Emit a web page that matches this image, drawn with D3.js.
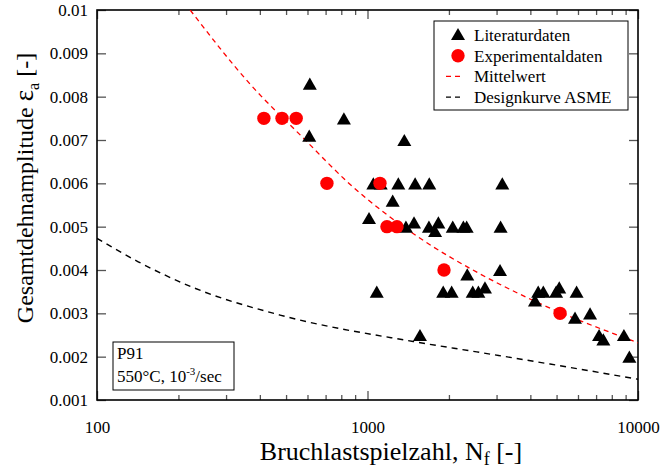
<!DOCTYPE html>
<html>
<head>
<meta charset="utf-8">
<script src="https://cdn.jsdelivr.net/npm/d3@7"></script>
<style>
	body { margin: 0; background: #fff; }
	text { font-family: 'Liberation Serif', 'Times New Roman', serif; }
</style>
</head>
<body>
<div id="chart"></div>
<script>
//data
const litN = [612, 818, 609, 1368, 1051, 1119, 1300, 1500, 1692, 3150, 1239, 1013, 1387, 1486, 1687, 1828, 1778, 2066, 2262, 2326, 3105, 2338, 3090, 1082, 1905, 2047, 2449, 2570, 2718, 1563, 4160, 4276, 4466, 4980, 5115, 5929, 5850, 6650, 7180, 7445, 8870, 9290];
const litE = [0.0083, 0.0075, 0.0071, 0.0070, 0.0060, 0.0060, 0.0060, 0.0060, 0.0060, 0.0060, 0.0056, 0.0052, 0.0050, 0.0051, 0.0050, 0.0051, 0.0049, 0.0050, 0.0050, 0.0050, 0.0050, 0.0039, 0.0040, 0.0035, 0.0035, 0.0035, 0.0035, 0.0035, 0.0036, 0.0025, 0.0033, 0.0035, 0.0035, 0.0035, 0.0036, 0.0035, 0.0029, 0.0030, 0.0025, 0.0024, 0.0025, 0.0020];

const expN = [414, 483, 545, 708, 1112, 1180, 1285, 1918, 5150];
const expE = [0.0075, 0.0075, 0.0075, 0.0060, 0.0060, 0.0050, 0.0050, 0.0040, 0.0030];

const meanN = [221, 368, 578, 861, 1524, 2606, 3990, 10000];
const meanE = [0.0100, 0.00829, 0.00705, 0.00598, 0.00478, 0.00391, 0.00333, 0.00232];

const asmeN = [100, 142, 230, 475, 1475, 2535, 4730, 10000];
const asmeE = [0.00473, 0.00419, 0.00358, 0.00296, 0.00235, 0.00211, 0.00183, 0.00148];

const yTicks = [0.001, 0.002, 0.003, 0.004, 0.005, 0.006, 0.007, 0.008, 0.009, 0.01];
const yTickLabels = ['0.001', '0.002', '0.003', '0.004', '0.005', '0.006', '0.007', '0.008', '0.009', '0.01'];
const xTicks = [100, 1000, 10000];
const xTickLabels = ['100', '1000', '10000'];
const xMinor = [200, 300, 400, 500, 600, 700, 800, 900, 2000, 3000, 4000, 5000, 6000, 7000, 8000, 9000];

const legendItems = ['Literaturdaten', 'Experimentaldaten', 'Mittelwert', 'Designkurve ASME'];

render();

function render() {
	const width = 662;
	const height = 470;
	const left = 97, right = 638, top = 10, bottom = 400;

	const svg = d3.select('#chart')
		.append('svg')
		.attr('width', width)
		.attr('height', height);

	const x = d3.scaleLog().domain([100, 10000]).range([left, right]);
	const y = d3.scaleLinear().domain([0.001, 0.01]).range([bottom, top]);

	//axes
	const tickColor = '#555';

	svg.append('g')
		.attr('transform', translation(0, bottom))
		.call(d3.axisBottom(x).tickValues(xTicks).tickSize(-9).tickPadding(21)
			.tickFormat((d, i) => xTickLabels[i]));
	svg.append('g')
		.attr('transform', translation(0, bottom))
		.call(d3.axisBottom(x).tickValues(xMinor).tickSize(-5).tickFormat(''));
	svg.append('g')
		.attr('transform', translation(0, top))
		.call(d3.axisTop(x).tickValues(xTicks).tickSize(-9).tickFormat(''));
	svg.append('g')
		.attr('transform', translation(0, top))
		.call(d3.axisTop(x).tickValues(xMinor).tickSize(-5).tickFormat(''));

	svg.append('g')
		.attr('transform', translation(left, 0))
		.call(d3.axisLeft(y).tickValues(yTicks).tickSize(-9).tickPadding(9)
			.tickFormat((d, i) => yTickLabels[i]));
	svg.append('g')
		.attr('transform', translation(right, 0))
		.call(d3.axisRight(y).tickValues(yTicks).tickSize(-9).tickFormat(''));

	svg.selectAll('.domain').remove();
	svg.selectAll('.tick line').style('stroke', tickColor).style('stroke-width', 1.3);
	svg.selectAll('.tick text')
		.style('font-family', "'Liberation Serif', serif")
		.style('font-size', '17px')
		.style('fill', '#000');

	//frame
	svg.append('rect')
		.attr('x', left)
		.attr('y', top)
		.attr('width', right - left)
		.attr('height', bottom - top)
		.style('fill', 'none')
		.style('stroke', '#000')
		.style('stroke-width', 1.6);

	const plot = svg.append('g');

	svg.append('clipPath').attr('id', 'clip')
		.append('rect')
		.attr('x', left).attr('y', top)
		.attr('width', right - left).attr('height', bottom - top);

	const line = d3.line()
		.x((d) => x(d[0]))
		.y((d) => y(d[1]))
		.curve(d3.curveMonotoneX);

	//curves
	plot.append('path')
		.datum(asmeN.map((n, i) => [n, asmeE[i]]))
		.attr('d', line)
		.attr('clip-path', 'url(#clip)')
		.style('fill', 'none')
		.style('stroke', '#000')
		.style('stroke-width', 1.4)
		.style('stroke-dasharray', '6,5');

	plot.append('path')
		.datum(meanN.map((n, i) => [n, meanE[i]]))
		.attr('d', line)
		.attr('clip-path', 'url(#clip)')
		.style('fill', 'none')
		.style('stroke', '#f00')
		.style('stroke-width', 1.3)
		.style('stroke-dasharray', '5,4');

	//points
	const triangle = d3.symbol(d3.symbolTriangle, 85);

	plot.selectAll('.lit')
		.data(litN.map((n, i) => [n, litE[i]]))
		.enter()
		.append('path')
		.attr('class', 'lit')
		.attr('d', triangle)
		.attr('transform', (d) => translation(x(d[0]), y(d[1]) + 2))
		.style('fill', '#000');

	plot.selectAll('.exp')
		.data(expN.map((n, i) => [n, expE[i]]))
		.enter()
		.append('circle')
		.attr('class', 'exp')
		.attr('cx', (d) => x(d[0]))
		.attr('cy', (d) => y(d[1]))
		.attr('r', 6.7)
		.style('fill', '#f00');

	//legend
	const legend = svg.append('g').attr('transform', translation(434, 21));
	legend.append('rect')
		.attr('width', 194)
		.attr('height', 89)
		.style('fill', '#fff')
		.style('stroke', '#000')
		.style('stroke-width', 1);

	const rows = legend.selectAll('.row')
		.data(legendItems)
		.enter()
		.append('g')
		.attr('class', 'row')
		.attr('transform', (d, i) => translation(0, 14 + i * 20.7));

	rows.append('text')
		.attr('x', 40)
		.attr('y', 6)
		.style('font-size', '17px')
		.text((d) => d);

	rows.filter((d, i) => i === 0).append('path')
		.attr('d', triangle)
		.attr('transform', translation(24, 1));
	rows.filter((d, i) => i === 1).append('circle')
		.attr('cx', 24)
		.attr('r', 6.7)
		.style('fill', '#f00');
	rows.filter((d, i) => i > 1).append('line')
		.attr('x1', 12)
		.attr('x2', 30)
		.style('stroke', (d, i) => (i === 0 ? '#f00' : '#000'))
		.style('stroke-width', 1.3)
		.style('stroke-dasharray', '5,4');

	//annotation
	const note = svg.append('g').attr('transform', translation(113, 342));
	note.append('rect')
		.attr('width', 121)
		.attr('height', 48)
		.style('fill', '#fff')
		.style('stroke', '#000')
		.style('stroke-width', 1);
	note.append('text')
		.attr('x', 4)
		.attr('y', 17)
		.style('font-size', '17px')
		.text('P91');
	const noteLine = note.append('text')
		.attr('x', 4)
		.attr('y', 40)
		.style('font-size', '17px');
	noteLine.append('tspan').text('550°C, 10');
	noteLine.append('tspan').attr('dy', -7).style('font-size', '11px').text('-3');
	noteLine.append('tspan').attr('dy', 7).text('/sec');

	//titles
	const xTitle = svg.append('text')
		.attr('x', 391)
		.attr('y', 460)
		.style('text-anchor', 'middle')
		.style('font-size', '26px');
	xTitle.append('tspan').text('Bruchlastspielzahl, N');
	xTitle.append('tspan').attr('dy', 5).style('font-size', '18px').text('f');
	xTitle.append('tspan').attr('dy', -5).text(' [-]');

	const yTitle = svg.append('text')
		.attr('transform', translation(33, 188) + ' rotate(-90)')
		.style('text-anchor', 'middle')
		.style('font-size', '24px');
	yTitle.append('tspan').text('Gesamtdehnamplitude ');
	yTitle.append('tspan').style('font-size', '27px').text('ε');
	yTitle.append('tspan').attr('dy', 6).style('font-size', '16px').text('a');
	yTitle.append('tspan').attr('dy', -6).text(' [-]');
}

//utils
function translation(x, y) {
	return `translate(${x}, ${y})`;
}
</script>
</body>
</html>
